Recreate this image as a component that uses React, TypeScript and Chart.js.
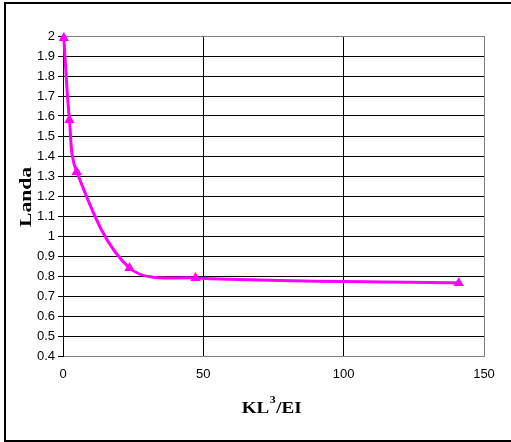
import React, { useEffect, useRef } from "react";
import { Chart, registerables } from "chart.js";

Chart.register(...registerables);

// ---- data ----
const X_VALUES = [0.3, 2.3, 4.9, 23.7, 47.2, 141];
const LANDA_VALUES = [1.99, 1.58, 1.32, 0.84, 0.79, 0.765];
const X_TICKS = [0, 50, 100, 150];
const Y_TICKS = [0.4, 0.5, 0.6, 0.7, 0.8, 0.9, 1, 1.1, 1.2, 1.3, 1.4, 1.5, 1.6, 1.7, 1.8, 1.9, 2];
const X_TITLE_PARTS = ["KL", "3", "/EI"];
const Y_TITLE = "Landa";

const SERIES_COLOR = "#FF00FF";
const GRID_DARK = "#000000";
const GRID_EDGE = "#808080";

const titlesPlugin = {
  id: "axisTitles",
  afterDraw(chart: any) {
    const ctx = chart.ctx as CanvasRenderingContext2D;
    const area = chart.chartArea;
    // Y title, rotated
    ctx.save();
    ctx.fillStyle = "#000";
    ctx.font = 'bold 17.5px "Liberation Serif"';
    const yw = ctx.measureText(Y_TITLE).width;
    ctx.translate(30.5, (area.top + area.bottom) / 2 + 1);
    ctx.rotate(-Math.PI / 2);
    ctx.scale(60 / yw, 1);
    ctx.textAlign = "center";
    ctx.textBaseline = "alphabetic";
    ctx.fillText(Y_TITLE, 0, 0);
    ctx.restore();

    // X title with superscript
    ctx.save();
    ctx.fillStyle = "#000";
    const mainFont = 'bold 17.5px "Liberation Serif"';
    const supFont = 'bold 11px "Liberation Serif"';
    ctx.font = mainFont;
    const w1 = ctx.measureText(X_TITLE_PARTS[0]).width;
    const w3 = ctx.measureText(X_TITLE_PARTS[2]).width;
    ctx.font = supFont;
    const w2 = ctx.measureText(X_TITLE_PARTS[1]).width + 1;
    const total = w1 + w2 + w3;
    const target = 60;
    const sx = target / total;
    const cx = 271.7;
    ctx.translate(cx - target / 2, 413);
    ctx.scale(sx, 1);
    ctx.textAlign = "left";
    ctx.textBaseline = "alphabetic";
    ctx.font = mainFont;
    ctx.fillText(X_TITLE_PARTS[0], 0, 0);
    ctx.font = supFont;
    ctx.fillText(X_TITLE_PARTS[1], w1 + 0.5, -10);
    ctx.font = mainFont;
    ctx.fillText(X_TITLE_PARTS[2], w1 + w2, 0);
    ctx.restore();
  },
};

export default function App() {
  const canvasRef = useRef<HTMLCanvasElement | null>(null);

  useEffect(() => {
    if (!canvasRef.current) return;
    const points = X_VALUES.map((x, i) => ({ x, y: LANDA_VALUES[i] }));
    const chart = new Chart(canvasRef.current, {
      type: "line",
      data: {
        datasets: [
          {
            label: Y_TITLE,
            data: points,
            borderColor: SERIES_COLOR,
            backgroundColor: SERIES_COLOR,
            borderWidth: 3,
            tension: 0.35,
            pointStyle: "triangle",
            pointRadius: 6,
            pointBorderWidth: 0,
            pointBackgroundColor: SERIES_COLOR,
            fill: false,
            clip: false,
          },
        ],
      },
      options: {
        animation: false,
        responsive: false,
        maintainAspectRatio: false,
        layout: { padding: { left: 0, top: 36, right: 27, bottom: 0 } },
        plugins: {
          legend: { display: false },
          tooltip: { enabled: false },
          title: { display: false },
        },
        scales: {
          x: {
            type: "linear",
            min: 0,
            max: 150,
            afterFit: (scale: any) => {
              scale.height = 86;
            },
            afterBuildTicks: (scale: any) => {
              scale.ticks = X_TICKS.map((v) => ({ value: v }));
            },
            ticks: {
              color: "#000",
              font: { family: '"Liberation Sans"', size: 13 },
              padding: 11,
              maxRotation: 0,
              autoSkip: false,
              callback: (v: any) => String(v),
            },
            grid: {
              drawTicks: false,
              lineWidth: 1,
              color: (c: any) => (c.tick && c.tick.value === 150 ? GRID_EDGE : GRID_DARK),
            },
            border: { display: true, color: GRID_EDGE, width: 1 },
          },
          y: {
            type: "linear",
            min: 0.4,
            max: 2,
            afterFit: (scale: any) => {
              scale.width = 63;
            },
            afterBuildTicks: (scale: any) => {
              scale.ticks = Y_TICKS.map((v) => ({ value: v }));
            },
            ticks: {
              color: "#000",
              font: { family: '"Liberation Sans"', size: 13 },
              padding: 3,
              autoSkip: false,
              callback: (v: any) => String(Math.round(Number(v) * 10) / 10),
            },
            grid: {
              drawTicks: true,
              tickLength: 5,
              tickColor: "#000",
              lineWidth: 1,
              color: (c: any) =>
                c.tick && (c.tick.value === 2 || c.tick.value === 0.4) ? GRID_EDGE : GRID_DARK,
            },
            border: { display: true, color: "#000", width: 1 },
          },
        },
      },
      plugins: [titlesPlugin],
    });
    return () => chart.destroy();
  }, []);

  return (
    <div
      style={{
        position: "fixed",
        left: 0,
        top: 0,
        width: 511,
        height: 442,
        overflow: "hidden",
        background: "#fff",
      }}
    >
      <div
        style={{
          position: "absolute",
          left: 4,
          top: 2,
          width: 620,
          height: 440,
          boxSizing: "border-box",
          border: "2px solid #000",
        }}
      />
      <canvas
        ref={canvasRef}
        width={511}
        height={442}
        style={{ position: "absolute", left: 0, top: 0, width: 511, height: 442 }}
      />
    </div>
  );
}
